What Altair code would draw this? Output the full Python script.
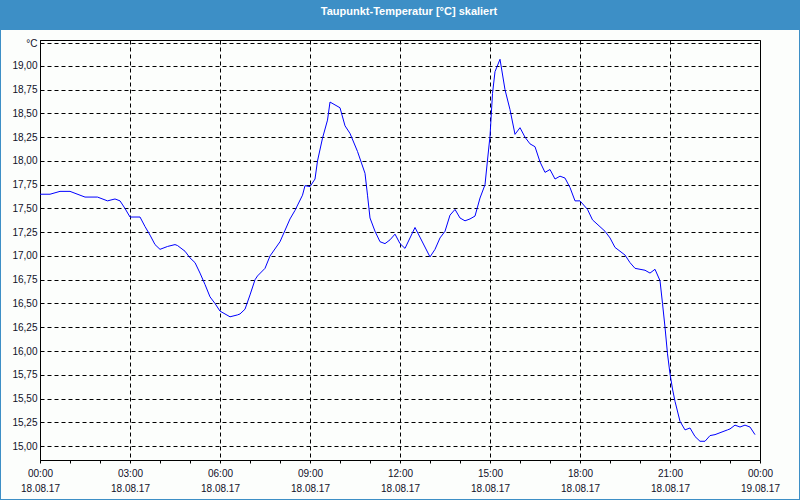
import altair as alt
import pandas as pd

title_text = "Taupunkt-Temperatur [°C] skaliert"

times = ["00:00","00:20","00:40","01:00","01:10","01:30","01:55","02:15","02:30","02:40",
         "02:50","03:00","03:20","03:30","03:40","03:50","04:00","04:15","04:30","04:35",
         "04:50","05:00","05:10","05:20","05:30","05:40","05:50","06:00","06:20","06:35",
         "06:40","06:50","07:00","07:10","07:15","07:30","07:40","08:00","08:20","08:30",
         "08:45","08:50","09:00","09:10","09:15","09:25","09:35","09:40","09:50","10:00",
         "10:10","10:20","10:35","10:50","10:55","11:00","11:10","11:20","11:30","11:40",
         "11:50","12:00","12:10","12:30","13:00","13:10","13:20","13:30","13:40","13:50",
         "14:00","14:10","14:20","14:30","14:40","14:50","14:55","15:00","15:05","15:10",
         "15:20","15:30","15:40","15:50","16:00","16:10","16:20","16:30","16:40","16:50",
         "17:00","17:10","17:20","17:30","17:40","17:50","18:00","18:15","18:25","18:50",
         "19:00","19:10","19:30","19:40","19:50","20:10","20:20","20:30","20:40","20:45",
         "20:50","20:55","21:00","21:05","21:10","21:20","21:30","21:40","21:50","22:00",
         "22:10","22:20","22:30","22:55","23:00","23:10","23:20","23:30","23:40","23:50"]

values = [17.65,17.65,17.68,17.68,17.66,17.62,17.62,17.58,17.60,17.58,
          17.50,17.41,17.41,17.31,17.22,17.12,17.07,17.10,17.12,17.11,
          17.05,16.98,16.93,16.82,16.70,16.57,16.50,16.42,16.36,16.38,
          16.39,16.44,16.59,16.75,16.79,16.87,17.00,17.15,17.39,17.48,
          17.64,17.74,17.73,17.81,18.00,18.24,18.43,18.62,18.59,18.56,
          18.37,18.29,18.10,17.87,17.64,17.40,17.26,17.15,17.13,17.17,
          17.23,17.13,17.08,17.30,16.99,17.07,17.19,17.26,17.43,17.49,
          17.40,17.37,17.39,17.42,17.61,17.75,18.01,18.26,18.71,18.94,
          19.07,18.75,18.54,18.28,18.35,18.25,18.18,18.15,17.99,17.88,
          17.91,17.81,17.84,17.82,17.72,17.58,17.58,17.49,17.38,17.26,
          17.19,17.09,17.01,16.93,16.87,16.85,16.82,16.86,16.74,16.50,
          16.25,15.97,15.76,15.60,15.47,15.26,15.17,15.19,15.10,15.05,
          15.05,15.11,15.12,15.17,15.18,15.22,15.20,15.22,15.20,15.12]

y_ticks = [15.0, 15.25, 15.5, 15.75, 16.0, 16.25, 16.5, 16.75, 17.0, 17.25,
           17.5, 17.75, 18.0, 18.25, 18.5, 18.75, 19.0, 19.24]
x_ticks = list(range(25))

hours = [int(t[:2]) + int(t[3:]) / 60 for t in times]
df = pd.DataFrame({"h": hours, "v": values})

BLUE = "#3d8fc6"
LABEL = "#101028"
FONT = "Liberation Sans"

x_axis = alt.Axis(
    values=x_ticks,
    labelExpr="datum.value % 3 === 0 ? [format(datum.value % 24, '02d') + ':00', datum.value < 24 ? '18.08.17' : '19.08.17'] : ''",
    grid=True, gridColor="black", gridDash=[4, 3], gridWidth=1,
    gridOpacity={"condition": {"test": "datum.value % 3 === 0", "value": 1}, "value": 0},
    tickSize=3, tickColor="black", domainColor="black",
    labelFont=FONT, labelFontSize=10, labelColor=LABEL, labelLineHeight=15,
    labelPadding=5, labelOverlap=False, labelFlush=False, title=None,
)
y_axis = alt.Axis(
    values=y_ticks,
    labelExpr="datum.value > 19.1 ? '°C' : replace(format(datum.value, '.2f'), '.', ',')",
    grid=True, gridColor="black", gridDash=[4, 3], gridWidth=1,
    ticks=False, domainColor="black",
    labelFont=FONT, labelFontSize=10, labelColor=LABEL, labelPadding=3,
    labelOverlap=False, labelFlush=False, title=None,
)

line = alt.Chart(df).mark_line(color="#0000ff", strokeWidth=1).encode(
    x=alt.X("h:Q", scale=alt.Scale(domain=[0, 24], nice=False, zero=False), axis=x_axis),
    y=alt.Y("v:Q", scale=alt.Scale(domain=[14.853, 19.273], nice=False, zero=False), axis=y_axis),
)

one = pd.DataFrame({"t": [title_text]})
bar = alt.Chart(one).mark_rect(color=BLUE).encode(
    x=alt.value(-40), x2=alt.value(760), y=alt.value(-40), y2=alt.value(-10)
)
frame = alt.Chart(one).mark_rect(fillOpacity=0, stroke=BLUE, strokeWidth=2).encode(
    x=alt.value(-40), x2=alt.value(760), y=alt.value(-40), y2=alt.value(460)
)
ttl = alt.Chart(one).mark_text(color="white", font=FONT, fontSize=11, fontWeight="bold",
                               align="center", baseline="middle").encode(
    text="t:N", x=alt.value(369), y=alt.value(-28)
)

chart = alt.layer(bar, frame, ttl, line).properties(
    width=720, height=420,
    autosize=alt.AutoSizeParams(type="none"),
    padding={"left": 40, "top": 40, "right": 40, "bottom": 40},
    background="#fcfefc",
).configure_view(stroke="black", strokeWidth=1)

chart.save("out.html", embed_options={"renderer": "svg", "actions": False})
